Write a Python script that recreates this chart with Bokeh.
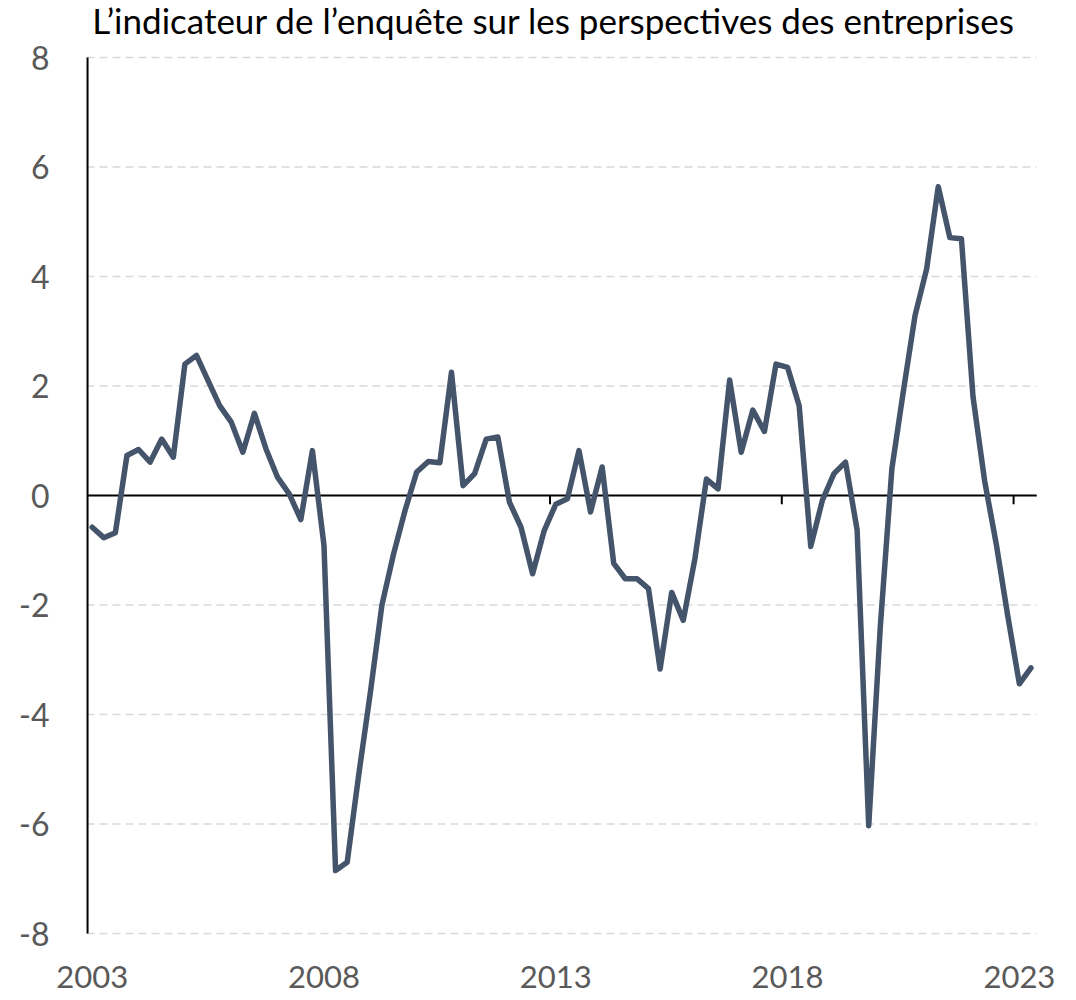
from bokeh.plotting import figure
from bokeh.models import Range1d, Label
from bokeh.core.properties import value
from bokeh.embed import file_html
from bokeh.resources import INLINE

# Quarterly values, 2003 Q1 .. 2023 Q2
values = [
    -0.58, -0.77, -0.68, 0.73, 0.84, 0.61, 1.03, 0.70,
    2.40, 2.56, 2.10, 1.64, 1.34, 0.79, 1.50, 0.85,
    0.33, 0.03, -0.44, 0.82, -0.91, -6.85, -6.70, -5.10,
    -3.60, -2.00, -1.07, -0.27, 0.43, 0.62, 0.60, 2.25,
    0.18, 0.40, 1.03, 1.07, -0.12, -0.58, -1.43, -0.64,
    -0.16, -0.06, 0.82, -0.30, 0.52, -1.24, -1.52, -1.52,
    -1.70, -3.17, -1.77, -2.28, -1.16, 0.30, 0.12, 2.11,
    0.79, 1.56, 1.17, 2.40, 2.34, 1.64, -0.93, -0.09,
    0.40, 0.61, -0.63, -6.03, -2.40, 0.49, 1.92, 3.29,
    4.14, 5.64, 4.71, 4.69, 1.80, 0.27, -0.88, -2.20,
    -3.44, -3.15,
]
quarters = list(range(len(values)))

year_labels = ["2003", "2008", "2013", "2018", "2023"]
year_index = [0, 20, 40, 60, 80]          # Q1 of each labelled year
y_ticks = [-8, -6, -4, -2, 0, 2, 4, 6, 8]
y_labels = ["-8", "-6", "-4", "-2", "0", "2", "4", "6", "8"]

title_text = "L\u2019indicateur de l\u2019enqu\u00eate sur les perspectives des entreprises"

FONT = "Lato"
LABEL_COLOR = "#595959"
LINE_COLOR = "#44546A"

# layout geometry (pixels)
PX_PER_UNIT = 54.75          # vertical
PX_PER_Q = 11.59             # horizontal
CANVAS_W, CANVAS_H = 1068, 992
LEFT_PX = 86                 # pixel column of the plotting area's left edge
TOP_PX = 57                  # pixel row of the highest tick
PLOT_X0 = -0.49              # left edge of the plotting area (data units)
X_END = len(values) - 0.5    # right edge of the plotting area
X0 = PLOT_X0 - LEFT_PX / PX_PER_Q
X1 = X0 + CANVAS_W / PX_PER_Q
Y1 = max(y_ticks) + TOP_PX / PX_PER_UNIT
Y0 = Y1 - CANVAS_H / PX_PER_UNIT

p = figure(
    frame_width=CANVAS_W, frame_height=CANVAS_H,
    x_range=Range1d(X0, X1), y_range=Range1d(Y0, Y1),
    output_backend="svg", toolbar_location=None,
    min_border_left=0, min_border_right=0, min_border_top=0, min_border_bottom=0,
)
p.outline_line_color = None
p.background_fill_color = "white"
p.border_fill_color = "white"
p.xaxis.visible = False
p.yaxis.visible = False
p.xgrid.visible = False
p.ygrid.visible = False

# dashed horizontal gridlines across the plotting area
grid_y = [t for t in y_ticks if t != 0]
p.segment(x0=[PLOT_X0] * len(grid_y), y0=grid_y, x1=[X_END] * len(grid_y), y1=grid_y,
          line_color="#D9D9D9", line_width=1.5, line_dash="8 5")

# vertical axis line from the lowest to the highest tick
axis_x = PLOT_X0 + 0.09
p.segment(x0=[axis_x], y0=[min(y_ticks)], x1=[axis_x], y1=[max(y_ticks)],
          line_color="black", line_width=2)

# zero line with category tick marks hanging below
p.segment(x0=[axis_x], y0=[0], x1=[X_END], y1=[0], line_color="black", line_width=2)
tick_x = [i - 0.5 for i in year_index[1:]]
p.segment(x0=tick_x, y0=[0] * len(tick_x), x1=tick_x, y1=[-0.16] * len(tick_x),
          line_color="black", line_width=2)

p.line(quarters, values, line_color=LINE_COLOR, line_width=5.5,
       line_join="round", line_cap="round")

# y tick labels, right-aligned left of the axis line
ylab_x = PLOT_X0 - 37 / PX_PER_Q
p.text(x=[ylab_x] * len(y_ticks), y=y_ticks, text=y_labels,
       text_font=value(FONT), text_font_size="32px", text_color=LABEL_COLOR,
       text_align="right", text_baseline="middle")

# year labels under the bottom gridline
label_y = min(y_ticks) - 43 / PX_PER_UNIT
p.text(x=year_index, y=[label_y] * len(year_index), text=year_labels,
       text_font=value(FONT), text_font_size="31px", text_color=LABEL_COLOR,
       text_align="center", text_baseline="middle")

# chart title, above the top gridline
p.add_layout(Label(text=title_text, x=quarters[0], y=max(y_ticks) + 38 / PX_PER_UNIT,
                   text_font=FONT, text_font_size="35px", text_color="#000000",
                   text_baseline="alphabetic", text_align="left"))

open("out.html", "w").write(file_html(p, INLINE))
